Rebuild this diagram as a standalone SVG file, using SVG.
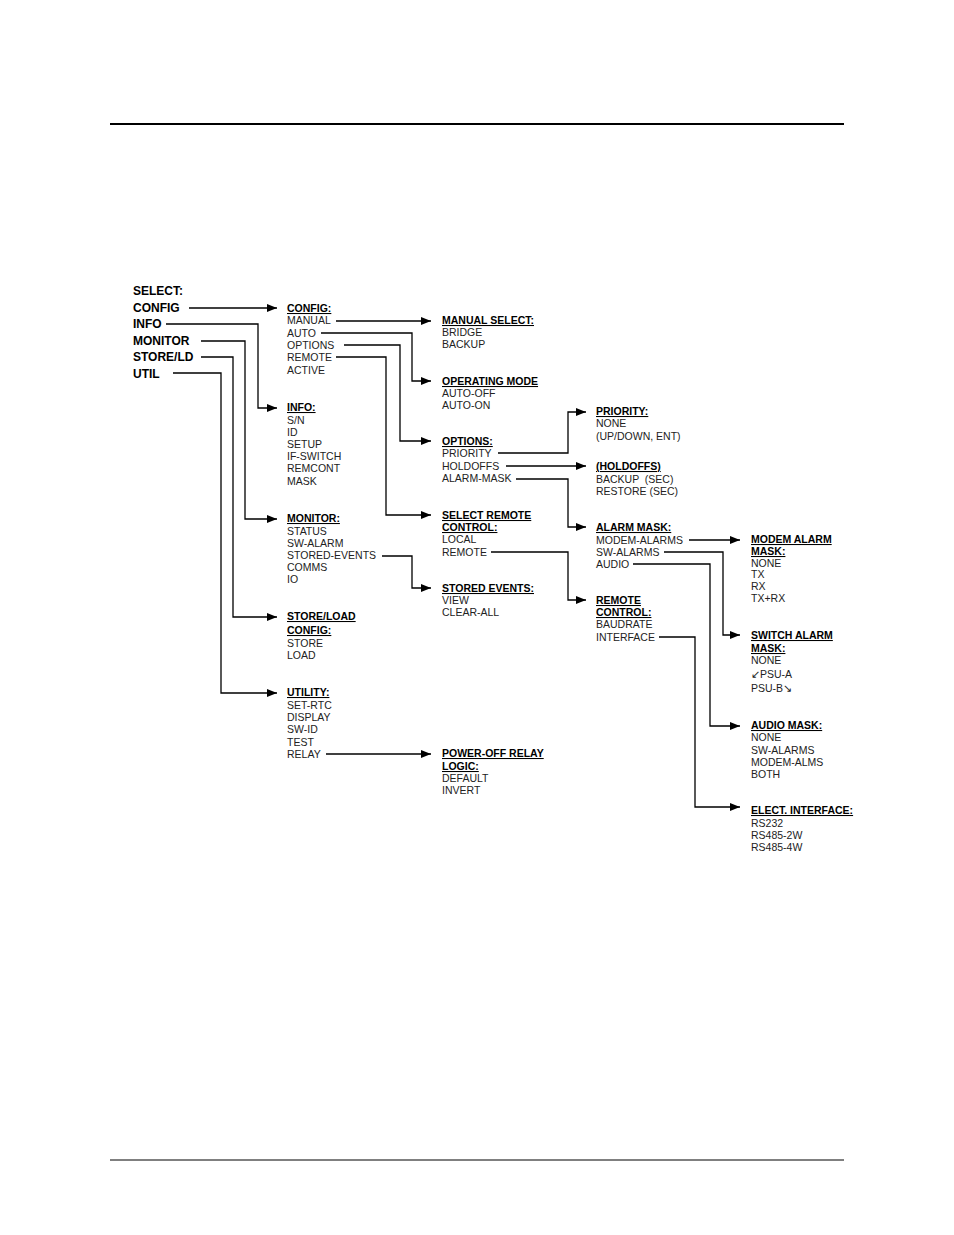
<svg xmlns="http://www.w3.org/2000/svg" width="954" height="1235" viewBox="0 0 954 1235">
<style>
text{font-family:"Liberation Sans",Arial,sans-serif;font-size:10.5px;fill:#222}
.t{font-weight:bold;text-decoration:underline;fill:#000}
.s{font-weight:bold;font-size:12px;fill:#000}
.c path{fill:none;stroke:#000;stroke-width:1.3;marker-end:url(#a)}
</style>
<defs><marker id="a" markerWidth="10" markerHeight="8" refX="10" refY="4" orient="auto" markerUnits="userSpaceOnUse"><path d="M0,0 L10,4 L0,8 Z" fill="#000"/></marker></defs>
<rect width="954" height="1235" fill="#fff"/>
<line x1="110" y1="124" x2="844" y2="124" stroke="#000" stroke-width="2"/>
<line x1="110" y1="1160" x2="844" y2="1160" stroke="#000" stroke-width="1"/>
<g id="select"><text class="s" x="133" y="295">SELECT:</text><text class="s" x="133" y="312">CONFIG</text><text class="s" x="133" y="328">INFO</text><text class="s" x="133" y="345">MONITOR</text><text class="s" x="133" y="361">STORE/LD</text><text class="s" x="133" y="378">UTIL</text></g>
<g class="c" id="connectors">
<path d="M189,308 H277"/>
<path d="M166,324 H258 V408 H277"/>
<path d="M201,341 H245 V519 H277"/>
<path d="M201,357 H233 V617 H277"/>
<path d="M173,373 H221 V693 H277"/>
<path d="M336,321 H431"/>
<path d="M321,333 H412 V381 H431"/>
<path d="M344,345 H400 V441 H431"/>
<path d="M336,357 H386 V515 H431"/>
<path d="M382,556 H412 V588 H431"/>
<path d="M326,754 H431"/>
<path d="M498,453 H568 V412 H586"/>
<path d="M506,466 H586"/>
<path d="M516,479 H568 V527 H586"/>
<path d="M491,552 H568 V600 H586"/>
<path d="M689,540 H740"/>
<path d="M664,552 H723 V635 H740"/>
<path d="M633,564 H710 V726 H740"/>
<path d="M659,637 H695 V807 H740"/>
</g>
<g id="config"><text class="t" x="287" y="312">CONFIG:</text><text x="287" y="324">MANUAL</text><text x="287" y="337">AUTO</text><text x="287" y="349">OPTIONS</text><text x="287" y="361">REMOTE</text><text x="287" y="374">ACTIVE</text></g>
<g id="info"><text class="t" x="287" y="411">INFO:</text><text x="287" y="424">S/N</text><text x="287" y="436">ID</text><text x="287" y="448">SETUP</text><text x="287" y="460">IF-SWITCH</text><text x="287" y="472">REMCONT</text><text x="287" y="485">MASK</text></g>
<g id="monitor"><text class="t" x="287" y="522">MONITOR:</text><text x="287" y="535">STATUS</text><text x="287" y="547">SW-ALARM</text><text x="287" y="559">STORED-EVENTS</text><text x="287" y="571">COMMS</text><text x="287" y="583">IO</text></g>
<g id="storeload"><text class="t" x="287" y="620">STORE/LOAD</text><text class="t" x="287" y="634">CONFIG:</text><text x="287" y="647">STORE</text><text x="287" y="659">LOAD</text></g>
<g id="utility"><text class="t" x="287" y="696">UTILITY:</text><text x="287" y="709">SET-RTC</text><text x="287" y="721">DISPLAY</text><text x="287" y="733">SW-ID</text><text x="287" y="746">TEST</text><text x="287" y="758">RELAY</text></g>
<g id="manual"><text class="t" x="442" y="324">MANUAL  SELECT:</text><text x="442" y="336">BRIDGE</text><text x="442" y="348">BACKUP</text></g>
<g id="opmode"><text class="t" x="442" y="385">OPERATING MODE</text><text x="442" y="397">AUTO-OFF</text><text x="442" y="409">AUTO-ON</text></g>
<g id="options"><text class="t" x="442" y="445">OPTIONS:</text><text x="442" y="457">PRIORITY</text><text x="442" y="470">HOLDOFFS</text><text x="442" y="482">ALARM-MASK</text></g>
<g id="selremote"><text class="t" x="442" y="519">SELECT REMOTE</text><text class="t" x="442" y="531">CONTROL:</text><text x="442" y="543">LOCAL</text><text x="442" y="556">REMOTE</text></g>
<g id="storedev"><text class="t" x="442" y="592">STORED EVENTS:</text><text x="442" y="604">VIEW</text><text x="442" y="616">CLEAR-ALL</text></g>
<g id="relay"><text class="t" x="442" y="757">POWER-OFF RELAY</text><text class="t" x="442" y="770">LOGIC:</text><text x="442" y="782">DEFAULT</text><text x="442" y="794">INVERT</text></g>
<g id="priority"><text class="t" x="596" y="415">PRIORITY:</text><text x="596" y="427">NONE</text><text x="596" y="440">(UP/DOWN, ENT)</text></g>
<g id="holdoffs"><text class="t" x="596" y="470">(HOLDOFFS)</text><text x="596" y="483" xml:space="preserve">BACKUP  (SEC)</text><text x="596" y="495">RESTORE (SEC)</text></g>
<g id="alarmmask"><text class="t" x="596" y="531">ALARM MASK:</text><text x="596" y="544">MODEM-ALARMS</text><text x="596" y="556">SW-ALARMS</text><text x="596" y="568">AUDIO</text></g>
<g id="remotectl"><text class="t" x="596" y="604">REMOTE</text><text class="t" x="596" y="616">CONTROL:</text><text x="596" y="628">BAUDRATE</text><text x="596" y="641">INTERFACE</text></g>
<g id="modemmask"><text class="t" x="751" y="543">MODEM ALARM</text><text class="t" x="751" y="555">MASK:</text><text x="751" y="567">NONE</text><text x="751" y="578">TX</text><text x="751" y="590">RX</text><text x="751" y="602">TX+RX</text></g>
<g id="switchmask"><text class="t" x="751" y="639">SWITCH ALARM</text><text class="t" x="751" y="652">MASK:</text><text x="751" y="664">NONE</text><text x="751" y="678">↙PSU-A</text><text x="751" y="692">PSU-B↘</text></g>
<g id="audiomask"><text class="t" x="751" y="729">AUDIO MASK:</text><text x="751" y="741">NONE</text><text x="751" y="754">SW-ALARMS</text><text x="751" y="766">MODEM-ALMS</text><text x="751" y="778">BOTH</text></g>
<g id="elect"><text class="t" x="751" y="814">ELECT. INTERFACE:</text><text x="751" y="827">RS232</text><text x="751" y="839">RS485-2W</text><text x="751" y="851">RS485-4W</text></g>
</svg>
